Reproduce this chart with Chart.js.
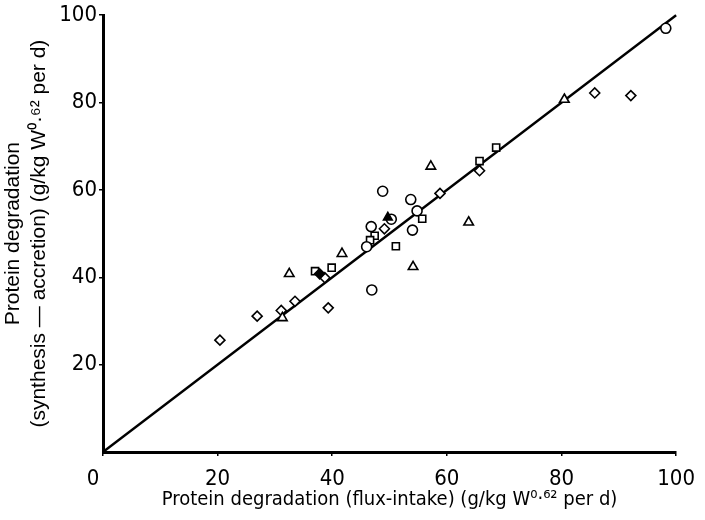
<!DOCTYPE html>
<html>
<head>
<meta charset="utf-8">
<script src="https://cdn.jsdelivr.net/npm/chart.js@4.4.1/dist/chart.umd.min.js"></script>
<style>
    html, body { margin: 0; padding: 0; background: #fff; }
    #wrap { width: 705px; height: 520px; }
</style>
</head>
<body>
<div id="wrap"><canvas id="chart" width="705" height="520"></canvas></div>
<script>
// values
const circleX = [98.2, 48.8, 53.7, 54.8, 50.3, 46.8, 54.0, 46.0, 46.9];
const circleY = [97.0, 59.7, 57.8, 55.2, 53.3, 51.6, 50.8, 47.0, 37.1];

const triangleX = [80.5, 57.2, 63.8, 54.1, 41.7, 32.5, 31.3];
const triangleY = [80.7, 65.4, 52.6, 42.4, 45.4, 40.8, 30.7];

const squareX = [68.6, 65.7, 55.7, 51.1, 47.4, 46.6, 39.9, 37.0];
const squareY = [69.7, 66.6, 53.4, 47.1, 49.5, 48.5, 42.2, 41.4];

const diamondX = [20.4, 26.9, 31.1, 33.5, 39.3, 38.7, 49.1, 58.8, 65.7, 85.8, 92.1];
const diamondY = [25.6, 31.1, 32.4, 34.5, 33.0, 39.9, 51.1, 59.2, 64.4, 82.2, 81.6];

const filledX = [37.8, 49.7];
const filledY = [40.8, 53.7];
const filledShapes = ['rectRot', 'triangle'];

const lineX = [0, 100];
const lineY = [0, 100];

const xTicks = [0, 20, 40, 60, 80, 100];
const yTicks = [20, 40, 60, 80, 100];

const condensed = "'DejaVu Sans Condensed', 'Liberation Sans', sans-serif";

function toPoints(xs, ys) {
    return xs.map((x, i) => ({ x: x, y: ys[i] }));
}

function markerSet(label, xs, ys, style, radius) {
    return {
        type: 'scatter',
        label: label,
        data: toPoints(xs, ys),
        pointStyle: style,
        pointRadius: radius,
        pointBackgroundColor: '#fff',
        pointBorderColor: '#000',
        pointBorderWidth: 1.6,
        clip: false,
        order: 1,
    };
}

const ctx = document.getElementById('chart').getContext('2d');
new Chart(ctx, {
    type: 'scatter',
    data: {
        datasets: [
            {
                type: 'line',
                label: 'line',
                data: toPoints(lineX, lineY),
                borderColor: '#000',
                borderWidth: 2.4,
                pointRadius: 0,
                fill: false,
                clip: false,
                order: 2,
            },
            markerSet('circle', circleX, circleY, 'circle', 5),
            markerSet('triangle', triangleX, triangleY, 'triangle', 5.5),
            markerSet('square', squareX, squareY, 'rect', 5),
            markerSet('diamond', diamondX, diamondY, 'rectRot', 5),
            {
                type: 'scatter',
                label: 'filled',
                data: toPoints(filledX, filledY),
                pointStyle: filledShapes,
                pointRadius: 5,
                pointBackgroundColor: '#000',
                pointBorderColor: '#000',
                pointBorderWidth: 1.6,
                clip: false,
                order: 0,
            },
        ]
    },
    options: {
        responsive: false,
        animation: false,
        events: [],
        layout: {
            padding: { top: 14, right: 21, left: 0, bottom: 0 }
        },
        plugins: {
            legend: { display: false },
            tooltip: { enabled: false },
        },
        scales: {
            x: {
                type: 'linear',
                min: 0,
                max: 100,
                afterBuildTicks: s => { s.ticks = xTicks.map(v => ({ value: v })); },
                afterFit: s => { s.height = 68; },
                border: { display: true, width: 3, color: '#000' },
                grid: { display: true, drawOnChartArea: false, drawTicks: true, tickLength: 4, color: '#000', lineWidth: 1.5 },
                ticks: {
                    color: '#000',
                    padding: 10,
                    maxRotation: 0,
                    // the 0 sits a little left of the corner in the original
                    callback: v => v === 0 ? '0\u2003' : String(v),
                    font: { family: condensed, size: 22 },
                },
                title: {
                    display: true,
                    text: 'Protein degradation (flux-intake) (g/kg W⁰·⁶² per d)',
                    color: '#000',
                    padding: { top: 0, bottom: 8 },
                    font: { family: condensed, size: 20 },
                },
            },
            y: {
                type: 'linear',
                min: 0,
                max: 100,
                afterBuildTicks: s => { s.ticks = yTicks.map(v => ({ value: v })); },
                afterFit: s => { s.width = 103; },
                border: { display: true, width: 3, color: '#000' },
                grid: { display: true, drawOnChartArea: false, drawTicks: true, tickLength: 4, color: '#000', lineWidth: 1.5 },
                ticks: {
                    color: '#000',
                    padding: 2,
                    font: { family: condensed, size: 22 },
                },
                title: {
                    display: true,
                    text: ['Protein degradation', '(synthesis \u2014 accretion) (g/kg W⁰·⁶² per d)'],
                    color: '#000',
                    padding: { top: 0, bottom: 0 },
                    font: { family: "'Liberation Sans', sans-serif", size: 21, lineHeight: 1.25 },
                },
            },
        },
    },
});
</script>
</body>
</html>
